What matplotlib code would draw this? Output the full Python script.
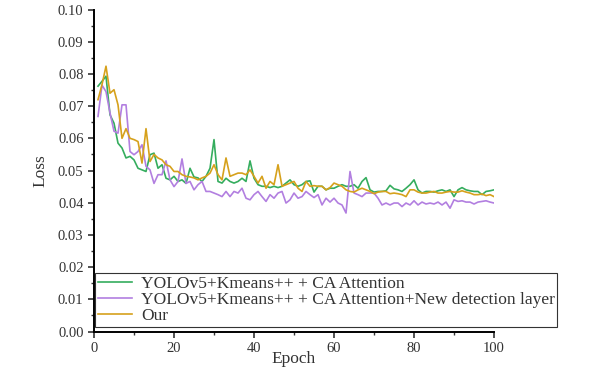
import matplotlib
matplotlib.use("Agg")
import matplotlib.pyplot as plt
from matplotlib.ticker import MultipleLocator, FormatStrFormatter

# Loss per epoch
epochs = list(range(1, 101))

loss_ca = [
    0.0762, 0.0777, 0.0793, 0.0673, 0.0647, 0.0585, 0.0570, 0.0539, 0.0544, 0.0533,
    0.0507, 0.0502, 0.0497, 0.0549, 0.0554, 0.0507, 0.0518, 0.0476, 0.0471, 0.0482,
    0.0466, 0.0471, 0.0460, 0.0507, 0.0480, 0.0477, 0.0466, 0.0482, 0.0507, 0.0596,
    0.0466, 0.0461, 0.0476, 0.0466, 0.0461, 0.0466, 0.0476, 0.0466, 0.0530, 0.0476,
    0.0456, 0.0451, 0.0451, 0.0447, 0.0451, 0.0447, 0.0451, 0.0461, 0.0471, 0.0456,
    0.0451, 0.0456, 0.0466, 0.0468, 0.0433, 0.0451, 0.0451, 0.0440, 0.0445, 0.0445,
    0.0451, 0.0456, 0.0451, 0.0451, 0.0456, 0.0445, 0.0466, 0.0478, 0.0440, 0.0433,
    0.0435, 0.0435, 0.0437, 0.0454, 0.0443, 0.0440, 0.0435, 0.0445, 0.0456, 0.0471,
    0.0440, 0.0430, 0.0435, 0.0435, 0.0433, 0.0437, 0.0440, 0.0435, 0.0440, 0.0419,
    0.0440, 0.0447, 0.0440, 0.0437, 0.0435, 0.0435, 0.0425, 0.0435, 0.0437, 0.0440,
]

loss_ca_layer = [
    0.0668, 0.0765, 0.0745, 0.0679, 0.0622, 0.0616, 0.0704, 0.0704, 0.0559, 0.0549,
    0.0559, 0.0580, 0.0513, 0.0502, 0.0460, 0.0487, 0.0487, 0.0530, 0.0471, 0.0450,
    0.0466, 0.0536, 0.0460, 0.0466, 0.0440, 0.0456, 0.0466, 0.0435, 0.0435, 0.0430,
    0.0425, 0.0419, 0.0435, 0.0419, 0.0435, 0.0430, 0.0445, 0.0414, 0.0409, 0.0425,
    0.0435, 0.0419, 0.0404, 0.0425, 0.0414, 0.0430, 0.0435, 0.0399, 0.0409, 0.0430,
    0.0414, 0.0419, 0.0435, 0.0425, 0.0416, 0.0425, 0.0393, 0.0414, 0.0402, 0.0414,
    0.0399, 0.0393, 0.0368, 0.0497, 0.0430, 0.0425, 0.0419, 0.0430, 0.0430, 0.0430,
    0.0414, 0.0393, 0.0399, 0.0393, 0.0399, 0.0399, 0.0388, 0.0399, 0.0393, 0.0406,
    0.0393, 0.0402, 0.0396, 0.0399, 0.0396, 0.0402, 0.0393, 0.0402, 0.0383, 0.0409,
    0.0404, 0.0406, 0.0402, 0.0402, 0.0396, 0.0402, 0.0404, 0.0406, 0.0402, 0.0399,
]

loss_ours = [
    0.0720, 0.0767, 0.0824, 0.0740, 0.0751, 0.0704, 0.0600, 0.0630, 0.0600, 0.0596,
    0.0590, 0.0523, 0.0630, 0.0528, 0.0550, 0.0539, 0.0533, 0.0518, 0.0513, 0.0497,
    0.0497, 0.0487, 0.0482, 0.0480, 0.0477, 0.0471, 0.0477, 0.0482, 0.0492, 0.0518,
    0.0487, 0.0471, 0.0539, 0.0482, 0.0487, 0.0492, 0.0492, 0.0487, 0.0502, 0.0482,
    0.0461, 0.0482, 0.0445, 0.0466, 0.0456, 0.0518, 0.0451, 0.0456, 0.0461, 0.0466,
    0.0445, 0.0435, 0.0466, 0.0451, 0.0453, 0.0451, 0.0451, 0.0440, 0.0447, 0.0461,
    0.0456, 0.0451, 0.0440, 0.0435, 0.0433, 0.0440, 0.0445, 0.0440, 0.0435, 0.0428,
    0.0433, 0.0435, 0.0435, 0.0428, 0.0430, 0.0428, 0.0425, 0.0419, 0.0440, 0.0440,
    0.0433, 0.0430, 0.0430, 0.0433, 0.0435, 0.0430, 0.0430, 0.0433, 0.0435, 0.0433,
    0.0433, 0.0437, 0.0433, 0.0430, 0.0425, 0.0425, 0.0427, 0.0422, 0.0425, 0.0419,
]

labels = [
    "YOLOv5+Kmeans++ + CA Attention",
    "YOLOv5+Kmeans++ + CA Attention+New detection layer",
    "Our",
]
colors = ["#35ad5e", "#b27fe0", "#d6a11c"]

plt.rcParams["font.family"] = ["Liberation Serif", "DejaVu Serif"]

fig = plt.figure(figsize=(6.16, 3.84), dpi=100)
ax = fig.add_axes([0.1526, 0.1367, 0.6494, 0.8385])

for series, label, color in zip([loss_ca, loss_ca_layer, loss_ours], labels, colors):
    ax.plot(epochs, series, color=color, lw=1.2, label=label)

ax.set_xlim(0, 100)
ax.set_ylim(0, 0.1)
ax.xaxis.set_major_locator(MultipleLocator(20))
ax.xaxis.set_minor_locator(MultipleLocator(10))
ax.yaxis.set_major_locator(MultipleLocator(0.01))
ax.yaxis.set_minor_locator(MultipleLocator(0.005))
ax.yaxis.set_major_formatter(FormatStrFormatter("%.2f"))

for side in ["top", "right"]:
    ax.spines[side].set_visible(False)
for side in ["left", "bottom"]:
    ax.spines[side].set_linewidth(1.4)

ax.tick_params(which="major", length=4.5, width=1.2, labelsize=10.5, colors="#333333", pad=3)
ax.tick_params(which="minor", length=2.5, width=1.0, colors="#333333")

ax.set_xlabel("Epoch", fontsize=12.5, color="#333333", labelpad=-3)
ax.set_ylabel("Loss", fontsize=12.5, color="#333333", labelpad=7)

leg = ax.legend(
    loc="lower left",
    bbox_to_anchor=(0.0025, 0.014),
    borderaxespad=0,
    fontsize=12.5,
    handlelength=2.0,
    handletextpad=0.5,
    labelspacing=0.0,
    borderpad=0.15,
    fancybox=False,
    framealpha=1,
    edgecolor="#333333",
)
leg.get_frame().set_linewidth(0.8)
for text in leg.get_texts():
    text.set_color("#333333")

fig.savefig("out.png", dpi=100)
